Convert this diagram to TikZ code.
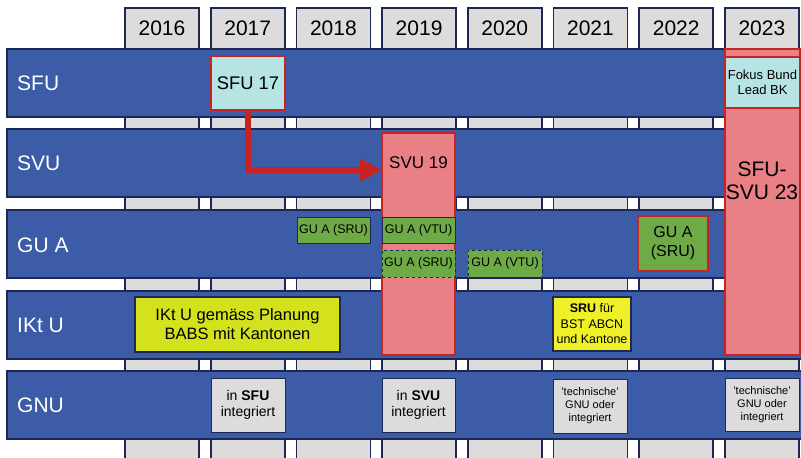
\documentclass[tikz,border=0pt]{standalone}
\usepackage{fontspec}
\setmainfont{Liberation Sans}
\usetikzlibrary{arrows.meta}
\definecolor{bandblue}{RGB}{60,92,168}
\definecolor{navy}{RGB}{30,40,85}
\definecolor{colgray}{RGB}{220,220,220}
\definecolor{pinkfill}{RGB}{232,128,134}
\definecolor{redline}{RGB}{200,35,35}
\definecolor{cyanfill}{RGB}{182,228,228}
\definecolor{greenfill}{RGB}{110,170,70}
\definecolor{yellowA}{RGB}{212,226,30}
\definecolor{yellowB}{RGB}{240,240,40}
\definecolor{boxgray}{RGB}{220,220,220}
\tikzset{
  colbox/.style={draw=navy, line width=1.6pt, fill=colgray, minimum width=74pt, minimum height=470pt, anchor=north west, inner sep=0pt, outer sep=0pt},
  band/.style={draw=navy, line width=1.4pt, fill=bandblue, minimum width=800pt, minimum height=68pt, anchor=north west, inner sep=0pt, outer sep=0pt},
  bandlabel/.style={text=white, font=\fontsize{21}{25}\selectfont, anchor=west, inner sep=0pt},
  yeartext/.style={font=\fontsize{21}{25}\selectfont, text=black, inner sep=0pt},
  box/.style={anchor=north west, inner sep=0pt, outer sep=0pt, align=center},
  pinkbox/.style={box, draw=redline, line width=1.8pt, fill=pinkfill},
  cyanbox/.style={box, draw=redline, line width=1.8pt, fill=cyanfill},
  greenbox/.style={box, draw=navy, line width=1pt, fill=greenfill, font=\fontsize{12.5}{15}\selectfont},
  greendash/.style={greenbox, dashed},
  yellowbox/.style={box, draw=navy, line width=1.4pt},
  graybox/.style={box, draw=navy, line width=1pt, fill=boxgray},
  redarrow/.style={draw=redline, line width=6pt, -{Triangle[length=22pt,width=21pt]}},
}
\begin{document}
\begin{tikzpicture}[x=1pt,y=-1pt]
\useasboundingbox (0,0) rectangle (801,458);
\clip (0,0) rectangle (801,458);
\fill[white] (0,0) rectangle (801,458);
% columns with year headers
\foreach \i/\yr in {0/2016,1/2017,2/2018,3/2019,4/2020,5/2021,6/2022,7/2023}{
  \pgfmathsetmacro\cx{125+85.7*\i}
  \node[colbox] (col\yr) at (\cx,8) {};
  \node[yeartext] (yr\yr) at (\cx+37,28) {\yr};
}
% bands
\node[band] (bsfu) at (7,49) {};
\node[band] (bsvu) at (7,129) {};
\node[band] (bgua) at (7,210) {};
\node[band] (biktu) at (7,291) {};
\node[band] (bgnu) at (7,371) {};
\node[bandlabel] (lsfu) at (17,83) {SFU};
\node[bandlabel] (lsvu) at (17,163) {SVU};
\node[bandlabel] (lgua) at (17,245) {GU A};
\node[bandlabel] (liktu) at (17,325) {IKt U};
\node[bandlabel] (lgnu) at (17,405) {GNU};
% SFU 17 and arrow to SVU 19
\node[cyanbox, minimum width=74pt, minimum height=54pt, font=\fontsize{18.3}{21}\selectfont] (sfu17) at (211,56) {SFU 17};
\node[pinkbox, minimum width=73pt, minimum height=222pt] (svu19) at (382,133) {};
\node[font=\fontsize{17}{20}\selectfont, inner sep=0pt] (svu19txt) at (418.5,163) {SVU 19};
\coordinate (arrowrow) at (0,170);
\draw[redarrow] (sfu17.south) |- (svu19.west |- arrowrow);
% 2023
\node[pinkbox, minimum width=75pt, minimum height=306pt] (sfusvu23) at (725,49) {};
\node[cyanbox, minimum width=74pt, minimum height=51pt, font=\fontsize{13}{15.5}\selectfont] (fokus) at (725.5,57) {Fokus Bund\\Lead BK};
\node[font=\fontsize{21}{23}\selectfont, align=center, inner sep=0pt] (sfusvu23txt) at (762,181) {SFU-\\SVU 23};
% GU A
\node[greenbox, minimum width=73pt, minimum height=26pt] (guasru18) at (297,217) {GU A (SRU)};
\node[greenbox, minimum width=73pt, minimum height=26pt] (guavtu19) at (382,217) {GU A (VTU)};
\node[greendash, minimum width=73pt, minimum height=27pt] (guasru19) at (382,250) {GU A (SRU)};
\node[greendash, minimum width=74pt, minimum height=27pt] (guavtu20) at (468,250) {GU A (VTU)};
\node[box, draw=redline, line width=1.8pt, fill=greenfill, minimum width=70pt, minimum height=55pt, font=\fontsize{16}{19}\selectfont] (guasru22) at (638,216) {GU A\\(SRU)};
% IKt U
\node[yellowbox, fill=yellowA, minimum width=205pt, minimum height=55pt, font=\fontsize{16.5}{19}\selectfont] (iktu) at (135,297) {IKt U gemäss Planung\\BABS mit Kantonen};
\node[yellowbox, fill=yellowB, minimum width=78pt, minimum height=54pt, font=\fontsize{12.5}{15.5}\selectfont] (sru) at (553,297) {\textbf{SRU} für\\BST ABCN\\und Kantone};
% GNU
\node[graybox, minimum width=74pt, minimum height=54pt, font=\fontsize{14}{16}\selectfont] (gnu17) at (211,378) {in \textbf{SFU}\\integriert};
\node[graybox, minimum width=73pt, minimum height=54pt, font=\fontsize{14}{16}\selectfont] (gnu19) at (382,378) {in \textbf{SVU}\\integriert};
\node[graybox, minimum width=74pt, minimum height=54pt, font=\fontsize{11}{13}\selectfont] (gnu21) at (553,379) {'technische'\\GNU oder\\integriert};
\node[graybox, minimum width=74pt, minimum height=53pt, font=\fontsize{11}{13}\selectfont] (gnu23) at (725,378) {'technische'\\GNU oder\\integriert};
\end{tikzpicture}
\end{document}
